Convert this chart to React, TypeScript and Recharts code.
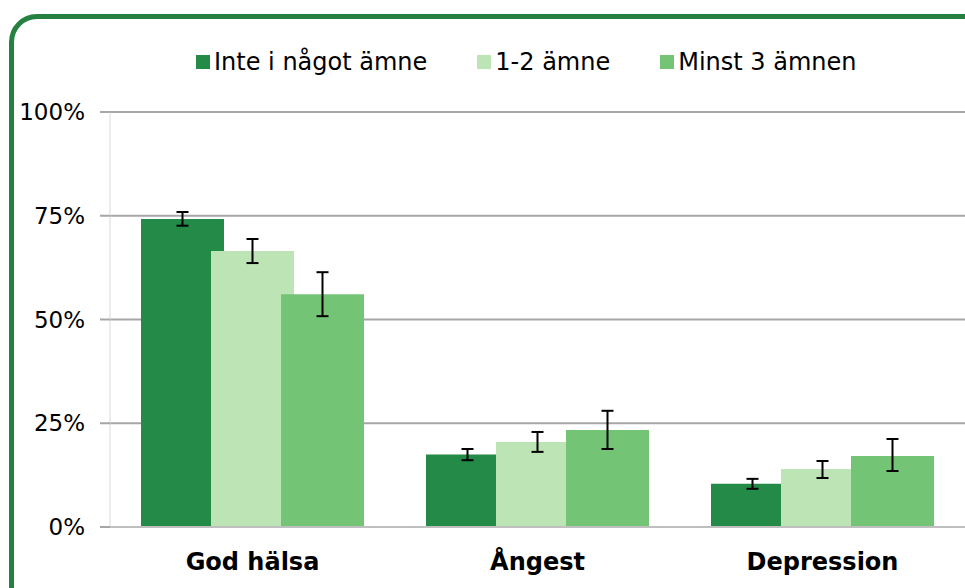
import React from "react";
import { BarChart, Bar, XAxis, YAxis, CartesianGrid, ErrorBar } from "recharts";

const categories = ["God hälsa", "Ångest", "Depression"];
const seriesNames = ["Inte i något ämne", "1-2 ämne", "Minst 3 ämnen"];
const colors = ["#248A47", "#BCE4B5", "#74C476"];

// values in percent, with lower/upper confidence limits
const inteValues = [74.2, 17.5, 10.4];
const inteLow = [72.6, 16.1, 9.2];
const inteHigh = [75.9, 18.8, 11.6];

const fewValues = [66.5, 20.5, 14.0];
const fewLow = [63.6, 18.1, 11.8];
const fewHigh = [69.4, 22.9, 15.9];

const manyValues = [56.1, 23.4, 17.1];
const manyLow = [50.8, 18.8, 13.5];
const manyHigh = [61.4, 28.0, 21.2];

const yTicks = [0, 25, 50, 75, 100];

const data = categories.map((name, i) => ({
    name,
    s0: inteValues[i],
    e0: [inteValues[i] - inteLow[i], inteHigh[i] - inteValues[i]],
    s1: fewValues[i],
    e1: [fewValues[i] - fewLow[i], fewHigh[i] - fewValues[i]],
    s2: manyValues[i],
    e2: [manyValues[i] - manyLow[i], manyHigh[i] - manyValues[i]],
}));

const font = "'DejaVu Sans', sans-serif";

const ChartLegend = () => (
    <div
        style={{
            position: "absolute",
            left: 196,
            top: 47,
            display: "flex",
            alignItems: "center",
            fontFamily: font,
            fontSize: 24,
            color: "#000",
            lineHeight: "30px",
        }}
    >
        {seriesNames.map((n, i) => (
            <div key={n} style={{ display: "flex", alignItems: "center", marginRight: i < 2 ? 50 : 0 }}>
                <span style={{ width: 14, height: 14, background: colors[i], marginRight: 4, display: "inline-block" }} />
                <span>{n}</span>
            </div>
        ))}
    </div>
);

const App: React.FC = () => {
    return (
        <div style={{ position: "fixed", left: 0, top: 0, width: 965, height: 588, overflow: "hidden", background: "#fff" }}>
            <div
                style={{
                    position: "absolute",
                    left: 9,
                    top: 14,
                    width: 1000,
                    height: 620,
                    border: "5px solid #268040",
                    borderRadius: 28,
                    boxSizing: "border-box",
                }}
            />
            <div style={{ position: "absolute", left: 0, top: 0 }}>
                <BarChart
                    width={965}
                    height={588}
                    data={data}
                    margin={{ top: 112, right: 0, left: 0, bottom: 0 }}
                    barSize={83}
                    barGap={-13}
                >
                    <CartesianGrid vertical={false} stroke="#A6A6A6" strokeWidth={2} />
                    <XAxis
                        dataKey="name"
                        height={61}
                        axisLine={{ stroke: "#BFBFBF", strokeWidth: 2 }}
                        tickLine={false}
                        tickMargin={20}
                        tick={{ fontFamily: font, fontSize: 24, fontWeight: "bold", fill: "#000" }}
                    />
                    <YAxis
                        width={110}
                        domain={[0, 100]}
                        ticks={yTicks}
                        tickFormatter={(v) => `${v}%`}
                        axisLine={{ stroke: "#D9D9D9", strokeWidth: 1 }}
                        tickLine={{ stroke: "#A6A6A6", strokeWidth: 2 }}
                        tickSize={10}
                        tickMargin={15}
                        tick={{ fontFamily: font, fontSize: 23, fill: "#000" }}
                    />
                    <Bar dataKey="s0" fill={colors[0]} isAnimationActive={false}>
                        <ErrorBar dataKey="e0" width={6} stroke="#000" strokeWidth={2} />
                    </Bar>
                    <Bar dataKey="s1" fill={colors[1]} isAnimationActive={false}>
                        <ErrorBar dataKey="e1" width={6} stroke="#000" strokeWidth={2} />
                    </Bar>
                    <Bar dataKey="s2" fill={colors[2]} isAnimationActive={false}>
                        <ErrorBar dataKey="e2" width={6} stroke="#000" strokeWidth={2} />
                    </Bar>
                </BarChart>
            </div>
            <ChartLegend />
        </div>
    );
};

export default App;
